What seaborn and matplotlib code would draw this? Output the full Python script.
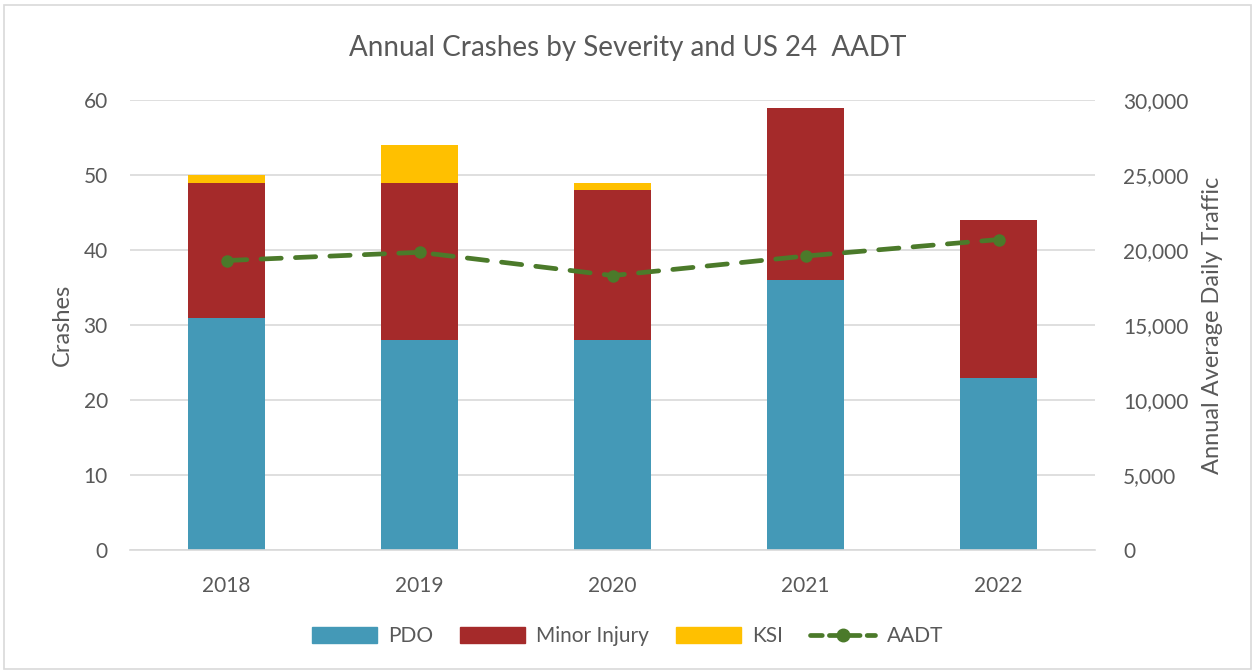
import numpy as np
import matplotlib
matplotlib.use("Agg")
import matplotlib.pyplot as plt
import seaborn as sns
from matplotlib.patches import Patch, Rectangle
from matplotlib.lines import Line2D
from matplotlib.ticker import FuncFormatter

# data
years = ["2018", "2019", "2020", "2021", "2022"]
pdo = [31, 28, 28, 36, 23]
minor_injury = [18, 21, 20, 23, 21]
ksi = [1, 5, 1, 0, 0]
aadt = [19300, 19850, 18300, 19600, 20700]

c_pdo = "#4499B7"
c_minor = "#A52A2A"
c_ksi = "#FFC000"
c_aadt = "#4B7A2A"
c_text = "#595959"
c_grid = "#D9D9D9"

sns.set_theme(style="white")
plt.rcParams["font.family"] = ["Lato", "DejaVu Sans"]

fig = plt.figure(figsize=(12.55, 6.71), dpi=100)
ax = fig.add_axes([0.1036, 0.1803, 0.769, 0.6706])

# stacked bars: draw cumulative totals back to front
lvl1 = np.array(pdo)
lvl2 = lvl1 + np.array(minor_injury)
lvl3 = lvl2 + np.array(ksi)
for vals, col in [(lvl3, c_ksi), (lvl2, c_minor), (lvl1, c_pdo)]:
    sns.barplot(x=years, y=vals, color=col, width=0.4, saturation=1, ax=ax,
                zorder=2, linewidth=0, edgecolor="none")

ax.set_ylim(0, 60)
ax.set_yticks(range(0, 61, 10))
ax.set_xlim(-0.5, 4.5)
ax.grid(axis="y", color=c_grid, lw=1.2, zorder=0)
ax.set_axisbelow(True)
for s in ["top", "left", "right"]:
    ax.spines[s].set_visible(False)
ax.spines["bottom"].set_color(c_grid)
ax.spines["bottom"].set_linewidth(1.2)
ax.tick_params(axis="y", length=0, labelsize=15, colors=c_text, pad=16)
ax.tick_params(axis="x", length=0, labelsize=15, colors=c_text, pad=19)
ax.set_xlabel("")
ax.set_ylabel("Crashes", fontsize=17, color=c_text, labelpad=8)

# AADT on secondary axis
ax2 = ax.twinx()
sns.lineplot(x=np.arange(len(years)), y=aadt, ax=ax2, color=c_aadt, lw=3.4,
             marker="o", markersize=9, markeredgewidth=0, dashes=False,
             dash_capstyle="round", zorder=3)
ax2.lines[0].set_dashes((4.3, 3.0))
ax2.set_ylim(0, 30000)
ax2.set_yticks(range(0, 30001, 5000))
ax2.yaxis.set_major_formatter(FuncFormatter(lambda v, p: f"{int(v):,}"))
for s in ["top", "left", "right", "bottom"]:
    ax2.spines[s].set_visible(False)
ax2.tick_params(axis="y", length=0, labelsize=15, colors=c_text, pad=20)
ax2.set_ylabel("Annual Average Daily Traffic", fontsize=17, color=c_text, labelpad=10)
ax.set_zorder(ax2.get_zorder() - 1)
ax.patch.set_visible(False)

fig.text(0.5, 0.928, "Annual Crashes by Severity and US 24  AADT", ha="center",
         va="center", fontsize=20, color=c_text)

handles = [
    Patch(color=c_pdo, label="PDO"),
    Patch(color=c_minor, label="Minor Injury"),
    Patch(color=c_ksi, label="KSI"),
    Line2D([], [], color=c_aadt, lw=3.4, marker="o", markersize=9,
           dashes=(2.5, 1.5), dash_capstyle="round", label="AADT"),
]
fig.legend(handles=handles, loc="center", bbox_to_anchor=(0.5, 0.052), ncol=4,
           frameon=False, fontsize=15, labelcolor=c_text, handlelength=3.1,
           handleheight=0.8, columnspacing=1.3, handletextpad=0.55)

# chart border
fig.patches.append(Rectangle((0.003, 0.003), 0.994, 0.99, transform=fig.transFigure,
                             fill=False, edgecolor=c_grid, lw=1.2))

fig.savefig("out.png", dpi=100)
